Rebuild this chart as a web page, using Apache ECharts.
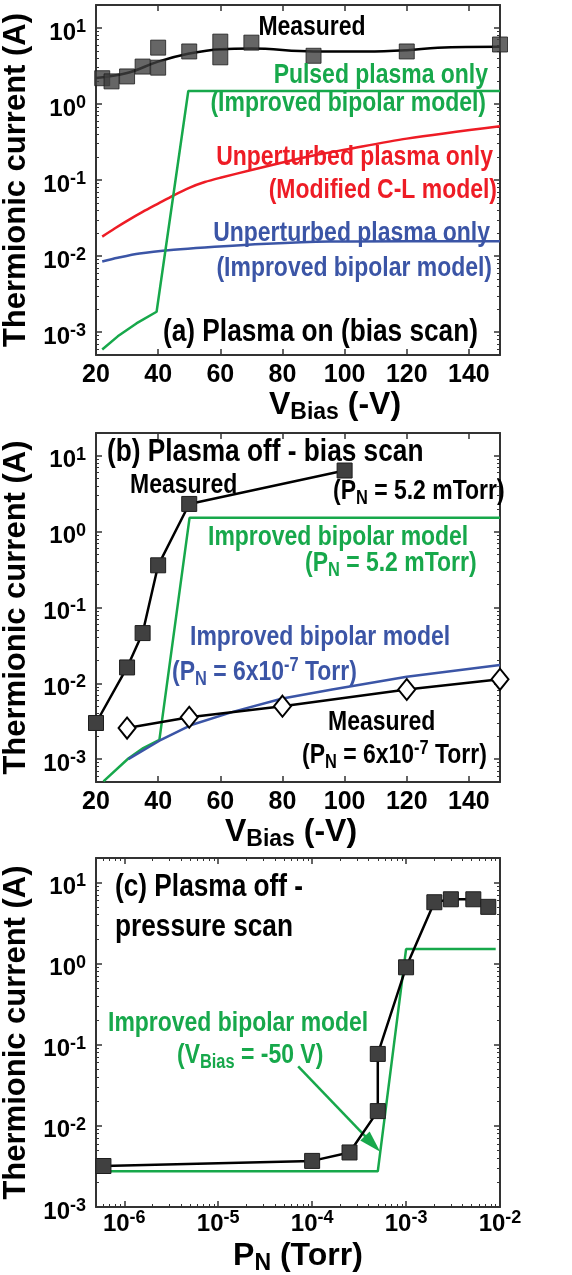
<!DOCTYPE html>
<html>
<head>
<meta charset="utf-8">
<script src="https://cdn.jsdelivr.net/npm/echarts@6/dist/echarts.min.js"></script>
<style>
  html, body { margin: 0; padding: 0; background: #fff; }
  #chart { width: 572px; height: 1275px; }
</style>
</head>
<body>
<div id="chart"></div>
<script>
var FONT = '"Liberation Sans", Arial, sans-serif';
var NARROW = 0.82; // annotations use a condensed face in the original
var GREEN = '#17a84b', RED = '#ee1c25', BLUE = '#3b55a6', INK = '#000', FRAME = '#333';

// (a) plasma on - bias scan
var aMeasured = [[22, 2.18], [25, 1.98], [30, 2.3], [35, 3.1], [40, 5.5], [40, 3.0], [50, 4.9],
                 [60, 6.6], [60, 4.1], [70, 6.4], [90, 4.3], [120, 4.9], [150, 6.05]];
var aMeasuredFit = [[20, 2.2], [30, 2.55], [40, 3.6], [50, 4.6], [60, 5.25], [70, 5.35], [90, 4.9],
                    [107, 4.9], [120, 5.1], [130, 5.5], [150, 5.65]];
var aPulsedModel = [[22, 5.9e-4], [27, 8.8e-4], [33, 1.3e-3], [39.5, 1.85e-3], [49.7, 1.48], [150, 1.48]];
var aClModel = [[22, 0.018], [26, 0.023], [30, 0.029], [35, 0.038], [40, 0.049], [45, 0.063], [50, 0.079],
                [55, 0.094], [60, 0.107], [70, 0.135], [80, 0.17], [90, 0.21], [100, 0.25], [120, 0.35],
                [150, 0.51]];
var aBipolarModel = [[22, 0.0085], [27, 0.0095], [34, 0.0108], [45, 0.0121], [55, 0.013], [75, 0.0145],
                     [95, 0.0155], [120, 0.0157], [150, 0.0157]];

// (b) plasma off - bias scan
var bMeasuredHigh = [[20, 0.003], [30, 0.0162], [35, 0.046], [40, 0.36], [50, 2.32], [100, 6.4]];
var bModelHigh = [[22.4, 5.1e-4], [30.4, 1.02e-3], [35.2, 1.4e-3], [40.4, 1.8e-3], [50.1, 1.52], [150, 1.52]];
var bModelLow = [[30.4, 1.0e-3], [40.4, 1.75e-3], [50.4, 2.8e-3], [64, 4.2e-3], [80, 6.3e-3], [96, 8.3e-3],
                 [120, 0.0122], [150, 0.0174]];
var bMeasuredLow = [[30, 2.57e-3], [50, 3.57e-3], [80, 5.0e-3], [120, 8.3e-3], [150, 0.0113]];

// (c) plasma off - pressure scan
var cMeasured = [[6e-7, 3.2e-3], [1e-4, 3.7e-3], [2.5e-4, 4.7e-3], [5e-4, 0.0152], [5e-4, 0.077],
                 [1e-3, 0.9], [2e-3, 5.7], [3e-3, 6.2], [5.2e-3, 6.2], [7.5e-3, 5.0]];
var cModel = [[6e-7, 2.75e-3], [5e-4, 2.75e-3], [1e-3, 1.51], [9e-3, 1.51]];
var cArrow = [[7.1e-5, 0.054], [4.4e-4, 6e-3]];

// axis ranges
var biasRange = [20, 150], biasTicks = 20;
var currentRangeAB = [5e-4, 20];
var currentRangeC = [1e-3, 20];
var pressureRange = [5e-7, 1e-2];

var grids = [
  { left: 96, top: 5, width: 404, height: 350, outerBoundsMode: 'none', containLabel: false },
  { left: 96, top: 433, width: 404, height: 349, outerBoundsMode: 'none', containLabel: false },
  { left: 96, top: 858, width: 404, height: 349, outerBoundsMode: 'none', containLabel: false }
];

function powLabel(v) {
  var e = Math.round(Math.log10(v));
  return '{n|10}{sup|' + e + '}';
}

var tickRich = {
  n: { fontFamily: FONT, fontWeight: 'bold', fontSize: 24, lineHeight: 30, color: INK },
  sup: { fontFamily: FONT, fontWeight: 'bold', fontSize: 18, lineHeight: 14, verticalAlign: 'top', color: INK }
};

function textRich(color, size, subH, supH) {
  return {
    n: { fontFamily: FONT, fontWeight: 'bold', fontSize: size, lineHeight: size + 6, color: color, fill: color },
    sub: { fontFamily: FONT, fontWeight: 'bold', fontSize: Math.round(size * 0.72), lineHeight: subH,
           verticalAlign: 'bottom', color: color, fill: color },
    sup: { fontFamily: FONT, fontWeight: 'bold', fontSize: Math.round(size * 0.72), lineHeight: supH,
           verticalAlign: 'top', color: color, fill: color }
  };
}

var lineStyleFrame = { color: FRAME, width: 2 };

function xAxes(gi, isLog, range, nameText, nameGap, namePad) {
  var base = {
    gridIndex: gi, type: isLog ? 'log' : 'value', min: range[0], max: range[1],
    splitLine: { show: false },
    axisLine: { show: true, onZero: false, lineStyle: lineStyleFrame },
    axisTick: { show: true, inside: true, length: 6, lineStyle: { color: FRAME, width: 1.5 } },
    minorTick: { show: isLog, splitNumber: 9, length: 3, lineStyle: { color: FRAME, width: 1 } }
  };
  if (!isLog) base.interval = biasTicks;
  var bottom = echarts.util.merge({
    position: 'bottom',
    name: nameText, nameLocation: 'middle', nameGap: nameGap,
    nameTextStyle: { padding: namePad, rich: textRich(INK, 32, 14, 21) },
    axisLabel: isLog ? {
      margin: 2, showMinLabel: false, formatter: powLabel, rich: tickRich
    } : {
      margin: 8, fontFamily: FONT, fontWeight: 'bold', fontSize: 25, color: INK
    }
  }, base, true);
  var top = echarts.util.merge({ position: 'top', axisLabel: { show: false } }, base, true);
  return [bottom, top];
}

function yAxes(gi, range, showMin) {
  var base = {
    gridIndex: gi, type: 'log', min: range[0], max: range[1],
    splitLine: { show: false },
    axisLine: { show: true, onZero: false, lineStyle: lineStyleFrame },
    axisTick: { show: true, inside: true, length: 6, lineStyle: { color: FRAME, width: 1.5 } },
    minorTick: { show: true, splitNumber: 9, length: 3, lineStyle: { color: FRAME, width: 1 } }
  };
  var left = echarts.util.merge({
    position: 'left',
    name: 'Thermionic current (A)', nameLocation: 'middle', nameRotate: 90, nameGap: 48,
    nameTextStyle: { fontFamily: FONT, fontWeight: 'bold', fontSize: 31, color: INK },
    axisLabel: {
      margin: 10, showMinLabel: showMin, showMaxLabel: false, formatter: powLabel,
      padding: [10, 0, 0, 0], rich: tickRich
    }
  }, base, true);
  var right = echarts.util.merge({ position: 'right', axisLabel: { show: false } }, base, true);
  return [left, right];
}

var xAxisList = []
  .concat(xAxes(0, false, biasRange, '{n|V}{sub|Bias}{n| (-V)}', 30, [0, 0, 0, 74]))
  .concat(xAxes(1, false, biasRange, '{n|V}{sub|Bias}{n| (-V)}', 24, [0, 14, 0, 0]))
  .concat(xAxes(2, true, pressureRange, '{n|P}{sub|N}{n| (Torr)}', 30, [0, 0, 0, 0]));
var yAxisList = []
  .concat(yAxes(0, currentRangeAB, false))
  .concat(yAxes(1, currentRangeAB, false))
  .concat(yAxes(2, currentRangeC, true));

function lineSeries(panel, data, color, extra) {
  return echarts.util.merge({
    type: 'line', xAxisIndex: panel * 2, yAxisIndex: panel * 2, data: data,
    showSymbol: false, symbol: 'none', silent: true,
    lineStyle: { color: color, width: 2.5 }, itemStyle: { color: color }
  }, extra || {}, true);
}

var squareStyle = { color: '#404040', borderColor: '#1e1e1e', borderWidth: 1 };

var series = [
  // (a)
  lineSeries(0, aClModel, RED, { smooth: 0.3 }),
  lineSeries(0, aBipolarModel, BLUE, { smooth: 0.3 }),
  lineSeries(0, aPulsedModel, GREEN),
  lineSeries(0, aMeasuredFit, INK, { smooth: 0.4 }),
  {
    type: 'scatter', xAxisIndex: 0, yAxisIndex: 0, data: aMeasured,
    symbol: 'rect', symbolSize: 15, itemStyle: squareStyle, z: 5
  },
  // (b)
  lineSeries(1, bModelHigh, GREEN),
  lineSeries(1, bModelLow, BLUE),
  lineSeries(1, bMeasuredHigh, INK, {
    showSymbol: true, symbol: 'rect', symbolSize: 15, itemStyle: squareStyle, z: 5
  }),
  lineSeries(1, bMeasuredLow, INK, {
    showSymbol: true, symbol: 'diamond', symbolSize: [17, 21],
    itemStyle: { color: '#fff', borderColor: INK, borderWidth: 2 }, z: 5
  }),
  // (c)
  lineSeries(2, cModel, GREEN, {
    markLine: {
      silent: true, symbol: ['none', 'triangle'], symbolSize: [13, 22],
      lineStyle: { color: GREEN, width: 2.5, type: 'solid' },
      label: { show: false },
      data: [[{ coord: cArrow[0] }, { coord: cArrow[1] }]]
    }
  }),
  lineSeries(2, cMeasured, INK, {
    showSymbol: true, symbol: 'rect', symbolSize: 15, itemStyle: squareStyle, z: 5
  })
];

function note(x, y, text, color, size, align) {
  return {
    type: 'text', x: x, y: y, scaleX: NARROW, silent: true, z: 100,
    style: {
      text: text, align: align || 'left', verticalAlign: 'middle',
      fill: color, font: 'bold ' + size + 'px ' + FONT,
      rich: textRich(color, size, 12, 19)
    }
  };
}

var graphics = [
  note(312, 27, '{n|Measured}', INK, 28, 'center'),
  note(488, 75, '{n|Pulsed plasma only}', GREEN, 28, 'right'),
  note(486, 103, '{n|(Improved bipolar model)}', GREEN, 28, 'right'),
  note(493, 157, '{n|Unperturbed plasma only}', RED, 28, 'right'),
  note(497, 190, '{n|(Modified C-L model)}', RED, 28, 'right'),
  note(490, 233, '{n|Unperturbed plasma only}', BLUE, 28, 'right'),
  note(492, 268, '{n|(Improved bipolar model)}', BLUE, 28, 'right'),
  note(163, 332, '{n|(a) Plasma on (bias scan)}', INK, 32),

  note(107, 452, '{n|(b) Plasma off - bias scan}', INK, 32),
  note(130, 485, '{n|Measured}', INK, 28),
  note(333, 491, '{n|(P}{sub|N}{n| = 5.2 mTorr)}', INK, 28),
  note(208, 537, '{n|Improved bipolar model}', GREEN, 28),
  note(305, 563, '{n|(P}{sub|N}{n| = 5.2 mTorr)}', GREEN, 28),
  note(190, 637, '{n|Improved bipolar model}', BLUE, 28),
  note(172, 672, '{n|(P}{sub|N}{n| = 6x10}{sup|-7}{n| Torr)}', BLUE, 28),
  note(328, 722, '{n|Measured}', INK, 28),
  note(302, 755, '{n|(P}{sub|N}{n| = 6x10}{sup|-7}{n| Torr)}', INK, 28),

  note(115, 887, '{n|(c) Plasma off -}', INK, 32),
  note(115, 927, '{n|pressure scan}', INK, 32),
  note(108, 1023, '{n|Improved bipolar model}', GREEN, 28),
  note(177, 1055, '{n|(V}{sub|Bias}{n| = -50 V)}', GREEN, 28)
];

var chart = echarts.init(document.getElementById('chart'));
chart.setOption({
  backgroundColor: '#fff',
  animation: false,
  grid: grids,
  xAxis: xAxisList,
  yAxis: yAxisList,
  series: series,
  graphic: graphics
});
</script>
</body>
</html>
